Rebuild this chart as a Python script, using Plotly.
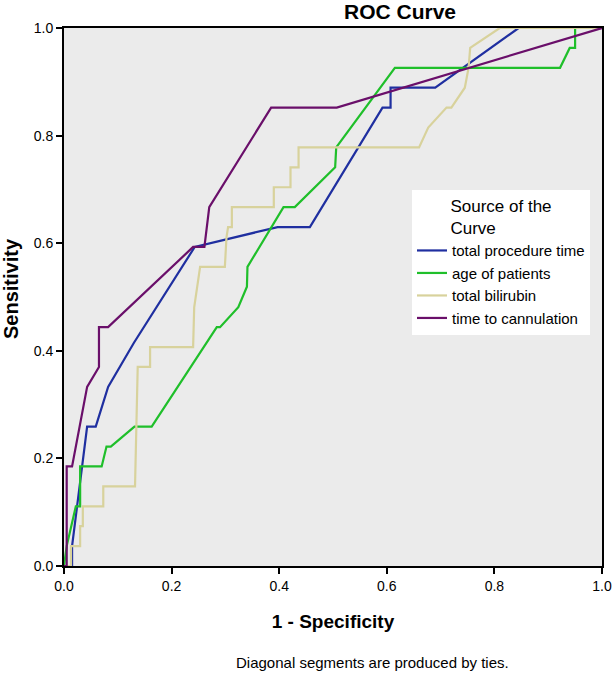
import plotly.graph_objects as go

# 1 - Specificity / Sensitivity points for each ROC curve
proc_x = [0, 0.015, 0.015, 0.043, 0.059, 0.082, 0.13, 0.243, 0.397, 0.457, 0.592, 0.607, 0.607, 0.69, 0.845, 1.0]
proc_y = [0, 0, 0.037, 0.259, 0.259, 0.333, 0.415, 0.593, 0.63, 0.63, 0.852, 0.852, 0.889, 0.889, 1.0, 1.0]

age_x = [0, 0.005, 0.022, 0.03, 0.03, 0.07, 0.079, 0.087, 0.131, 0.163, 0.284, 0.29, 0.324, 0.34, 0.341, 0.408, 0.429, 0.504, 0.506, 0.615, 0.922, 0.94, 0.95, 0.95, 1.0]
age_y = [0, 0.037, 0.111, 0.111, 0.185, 0.185, 0.222, 0.222, 0.259, 0.259, 0.444, 0.444, 0.481, 0.519, 0.556, 0.667, 0.667, 0.741, 0.778, 0.926, 0.926, 0.963, 0.963, 1.0, 1.0]

bili_x = [0, 0.013, 0.013, 0.03, 0.03, 0.035, 0.035, 0.073, 0.073, 0.132, 0.137, 0.16, 0.16, 0.24, 0.242, 0.253, 0.299, 0.302, 0.305, 0.312, 0.312, 0.39, 0.39, 0.421, 0.421, 0.436, 0.436, 0.66, 0.677, 0.711, 0.72, 0.745, 0.752, 0.755, 0.81, 1.0]
bili_y = [0, 0, 0.037, 0.037, 0.074, 0.074, 0.111, 0.111, 0.148, 0.148, 0.37, 0.37, 0.407, 0.407, 0.481, 0.556, 0.556, 0.611, 0.63, 0.63, 0.667, 0.667, 0.704, 0.704, 0.741, 0.741, 0.778, 0.778, 0.815, 0.852, 0.852, 0.889, 0.926, 0.963, 1.0, 1.0]

cann_x = [0, 0.005, 0.005, 0.015, 0.043, 0.065, 0.065, 0.082, 0.24, 0.261, 0.27, 0.385, 0.507, 1.0]
cann_y = [0, 0, 0.185, 0.185, 0.333, 0.37, 0.444, 0.444, 0.593, 0.593, 0.667, 0.852, 0.852, 1.0]

names = ["total procedure time", "age of patients", "total bilirubin", "time to cannulation"]
colors = ["#1f2fa0", "#1fbf2a", "#d8d29c", "#6a0f6a"]
tick_vals = [0.0, 0.2, 0.4, 0.6, 0.8, 1.0]
tick_text = ["0.0", "0.2", "0.4", "0.6", "0.8", "1.0"]

FONT = "Liberation Sans, Arial, sans-serif"

fig = go.Figure()
for xs, ys, nm, c in zip([proc_x, age_x, bili_x, cann_x], [proc_y, age_y, bili_y, cann_y], names, colors):
    fig.add_trace(go.Scatter(x=xs, y=ys, mode="lines", name=nm,
                             line=dict(color=c, width=2.2)))

axis_common = dict(range=[0, 1], tickvals=tick_vals, ticktext=tick_text,
                   showline=True, linecolor="black", linewidth=2, mirror=True,
                   ticks="outside", ticklen=6, tickwidth=2, tickcolor="black",
                   showgrid=False, zeroline=False, automargin=False,
                   tickfont=dict(family=FONT, size=14, color="black"))

fig.update_layout(
    width=614, height=675,
    margin=dict(l=64, r=12, t=28, b=109),
    paper_bgcolor="white", plot_bgcolor="#ebebeb",
    font=dict(family=FONT, color="black"),
    xaxis=dict(**axis_common,
               title=dict(text="<b>1 - Specificity</b>", font=dict(family=FONT, size=19), standoff=22)),
    yaxis=dict(**axis_common),
    legend=dict(x=(412 - 64) / 538, y=(566 - 190) / 538, xanchor="left", yanchor="top",
                bgcolor="white", borderwidth=0,
                font=dict(family=FONT, size=15, color="black"),
                title=dict(text="Source of the<br>Curve", side="top center",
                           font=dict(family=FONT, size=17)),
                itemwidth=30, tracegroupgap=0),
    showlegend=True,
)

fig.add_annotation(text="<b>Sensitivity</b>", xref="paper", yref="paper",
                   x=(11 - 64) / 538, y=(566 - 289) / 538, textangle=-90,
                   xanchor="center", yanchor="middle", showarrow=False,
                   font=dict(family=FONT, size=20, color="black"))
fig.add_annotation(text="<b>ROC Curve</b>", xref="paper", yref="paper",
                   x=(400 - 64) / 538, y=1.0, yshift=17, yanchor="middle", showarrow=False,
                   font=dict(family=FONT, size=21, color="black"))
fig.add_annotation(text="Diagonal segments are produced by ties.", xref="paper", yref="paper",
                   x=(372 - 64) / 538, y=(566 - 662) / 538, yanchor="middle", showarrow=False,
                   font=dict(family=FONT, size=15, color="black"))

fig.write_html("out.html", config={"displayModeBar": False},
               post_script="document.body.style.margin='0px';")
